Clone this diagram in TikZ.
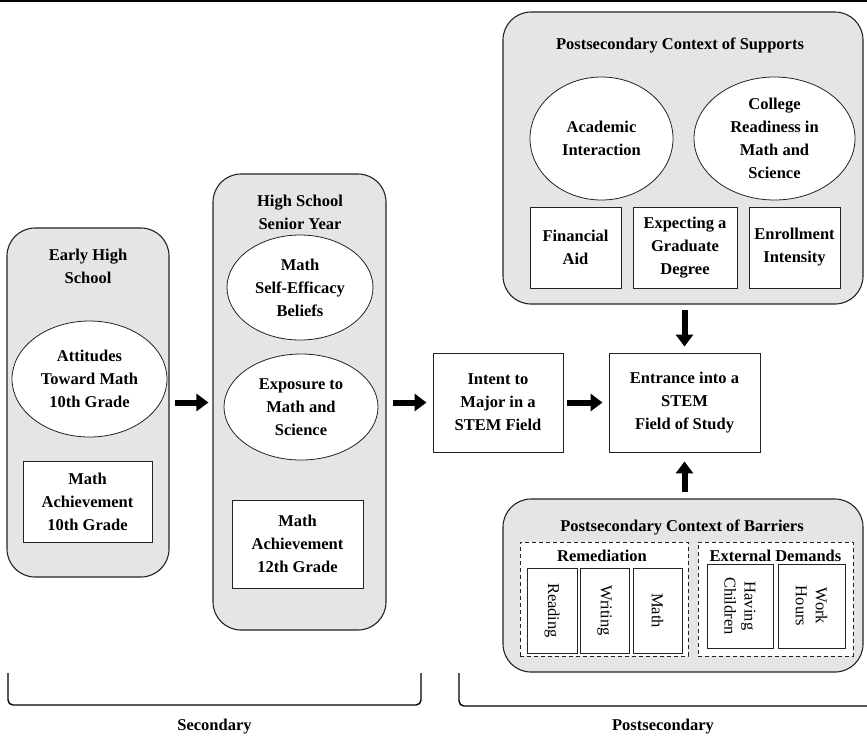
\documentclass[tikz,border=0pt]{standalone}
\usepackage{fontspec}
\setmainfont{Liberation Serif}
\usetikzlibrary{shapes.geometric,arrows.meta}
\definecolor{panel}{RGB}{228,229,231}
\definecolor{edge}{RGB}{35,35,35}
\begin{document}
\begin{tikzpicture}[x=1pt,y=-1pt,
  txt/.style={font=\bfseries\fontsize{16.5}{23}\selectfont, align=center},
  vtxt/.style={font=\fontsize{16.5}{20}\selectfont, align=center},
  container/.style={draw=edge, fill=panel, line width=1.1pt, rounded corners=28pt, inner sep=0pt},
  ell/.style={ellipse, draw=edge, fill=white, line width=0.8pt, inner sep=0pt, txt},
  wbox/.style={rectangle, draw=edge, fill=white, line width=0.9pt, inner sep=0pt, txt},
  vbox/.style={rectangle, draw=edge, fill=white, line width=0.9pt, inner sep=0pt, vtxt, rotate=-90},
  group/.style={rectangle, draw=edge, fill=white, dashed, dash pattern=on 4pt off 3pt, line width=0.9pt, inner sep=0pt},
  bigarrow/.style={line width=6pt, -{Triangle[length=12pt,width=17pt]}},
  bracket/.style={line width=1.4pt, rounded corners=5pt}
]
\useasboundingbox (0,0) rectangle (867,740);

% top rule
\coordinate (ruleL) at (0,1);
\coordinate (ruleR) at (867,1);
\draw[line width=1.6pt] (ruleL) -- (ruleR);

% Early High School
\node[container, minimum width=162pt, minimum height=349pt] (early) at (88,402.5) {};
\node[txt] (earlyT) at (88,266) {Early High\\School};
\node[ell, minimum width=155pt, minimum height=116pt] (att) at (89.5,379) {Attitudes\\Toward Math\\10th Grade};
\node[wbox, minimum width=129pt, minimum height=81pt] (ach10) at (87.5,501.5) {Math\\Achievement\\10th Grade};

% High School Senior Year
\node[container, minimum width=173pt, minimum height=456pt] (senior) at (299.5,402) {};
\node[txt] (seniorT) at (300,212.5) {High School\\Senior Year};
\node[ell, minimum width=146pt, minimum height=105pt] (selfeff) at (300,287.5) {Math\\Self-Efficacy\\Beliefs};
\node[ell, minimum width=154pt, minimum height=106pt] (expo) at (301,407) {Exposure to\\Math and\\Science};
\node[wbox, minimum width=131pt, minimum height=88pt] (ach12) at (297.5,544) {Math\\Achievement\\12th Grade};

% Intent and Entrance
\node[wbox, minimum width=130pt, minimum height=99pt] (intent) at (498,402.5) {Intent to\\Major in a\\STEM Field};
\node[wbox, minimum width=151pt, minimum height=99pt] (entr) at (684.5,402.5) {Entrance into a\\STEM\\Field of Study};

% Supports
\node[container, minimum width=360pt, minimum height=292pt] (supp) at (683,158) {};
\node[txt] (suppT) at (680,45) {Postsecondary Context of Supports};
\node[ell, minimum width=143pt, minimum height=123pt] (acad) at (601.5,138.5) {Academic\\Interaction};
\node[ell, minimum width=161pt, minimum height=123pt] (coll) at (774.5,138.5) {College\\Readiness in\\Math and\\Science};
\node[wbox, minimum width=91pt, minimum height=81pt] (fin) at (575.5,247.5) {Financial\\Aid};
\node[wbox, minimum width=104pt, minimum height=81pt] (grad) at (685,247.5) {Expecting a\\Graduate\\Degree};
\node[wbox, minimum width=91pt, minimum height=81pt] (enr) at (794.5,247.5) {Enrollment\\Intensity};

% Barriers
\node[container, minimum width=360pt, minimum height=173pt] (barr) at (683,585.5) {};
\node[txt] (barrT) at (682,527) {Postsecondary Context of Barriers};
\node[group, minimum width=168pt, minimum height=114pt] (remed) at (604,599) {};
\node[group, minimum width=155pt, minimum height=114pt] (ext) at (775.5,599) {};
\node[txt] (remedT) at (602,556) {Remediation};
\node[txt] (extT) at (775.5,556) {External Demands};
\node[vbox, minimum width=85pt, minimum height=50pt] (read) at (552,610.5) {Reading};
\node[vbox, minimum width=85pt, minimum height=49pt] (writ) at (604.5,610.5) {Writing};
\node[vbox, minimum width=85pt, minimum height=49pt] (mathr) at (657.5,610.5) {Math};
\node[vbox, minimum width=84pt, minimum height=66pt] (child) at (740,606) {Having\\Children};
\node[vbox, minimum width=84pt, minimum height=67pt] (work) at (811.5,606) {Work\\Hours};

% arrows
\draw[bigarrow, shorten <=5pt, shorten >=4pt] (early.east |- intent.center) -- (senior.west |- intent.center);
\draw[bigarrow, shorten <=6pt, shorten >=6pt] (senior.east |- intent.center) -- (intent.west);
\draw[bigarrow, shorten <=4pt, shorten >=6pt] (intent.east) -- (entr.west);
\draw[bigarrow, shorten <=5pt, shorten >=6pt] (supp.south -| entr.north) -- (entr.north);
\draw[bigarrow, shorten <=6pt, shorten >=9pt] (barr.north -| entr.south) -- (entr.south);

% brackets
\coordinate (b1a) at (8,673);
\coordinate (b1b) at (8,705);
\coordinate (b1c) at (421,705);
\coordinate (b1d) at (421,673);
\draw[bracket] (b1a) -- (b1b) -- (b1c) -- (b1d);
\coordinate (b2a) at (459,673);
\coordinate (b2b) at (459,706);
\coordinate (b2c) at (867,706);
\draw[bracket] (b2a) -- (b2b) -- (b2c);
\node[txt] (secL) at (214.5,727) {Secondary};
\node[txt] (postL) at (663,727) {Postsecondary};
\end{tikzpicture}
\end{document}
